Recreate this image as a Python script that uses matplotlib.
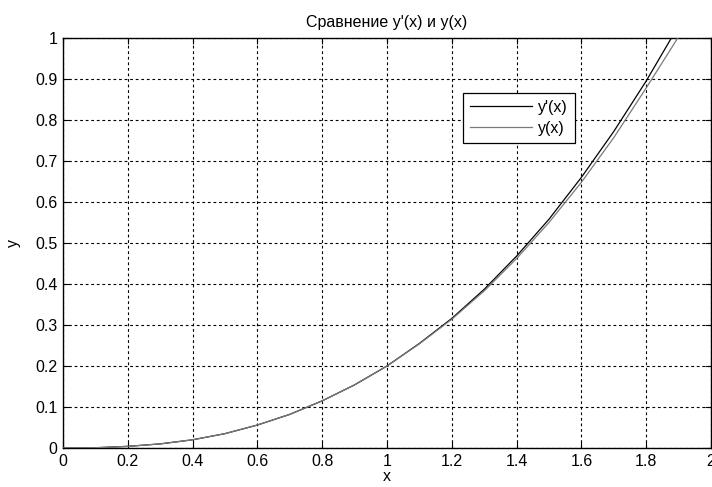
import matplotlib
matplotlib.use("Agg")
import matplotlib.pyplot as plt

x_vals = [0.0, 0.1, 0.2, 0.3, 0.4, 0.5, 0.6, 0.7, 0.8, 0.9, 1.0,
          1.1, 1.2, 1.3, 1.4, 1.5, 1.6, 1.7, 1.8, 1.9, 2.0]
y_deriv = [0.0, 0.0006, 0.004, 0.01, 0.02, 0.035, 0.056, 0.082, 0.115, 0.154, 0.2,
           0.255, 0.316, 0.387, 0.468, 0.558, 0.66, 0.772, 0.895, 1.03, 1.17]
y_exact = [0.0, 0.0006, 0.004, 0.01, 0.02, 0.035, 0.056, 0.082, 0.115, 0.154, 0.2,
           0.254, 0.314, 0.383, 0.462, 0.55, 0.648, 0.757, 0.878, 1.003, 1.14]
xticks = [0, 0.2, 0.4, 0.6, 0.8, 1, 1.2, 1.4, 1.6, 1.8, 2]
xtick_labels = ["0", "0.2", "0.4", "0.6", "0.8", "1", "1.2", "1.4", "1.6", "1.8", "2"]
yticks = [0, 0.1, 0.2, 0.3, 0.4, 0.5, 0.6, 0.7, 0.8, 0.9, 1]
ytick_labels = ["0", "0.1", "0.2", "0.3", "0.4", "0.5", "0.6", "0.7", "0.8", "0.9", "1"]

plt.rcParams['font.family'] = ['Liberation Sans', 'DejaVu Sans']

fig = plt.figure(figsize=(7.12, 4.87), dpi=100)
ax = fig.add_axes([0.0885, 0.0801, 0.9101, 0.842])

ax.plot(x_vals, y_deriv, color='black', lw=0.9, label="y'(x)", zorder=3)
ax.plot(x_vals, y_exact, color='#7a7a7a', lw=0.9, label="y(x)", zorder=3)

ax.set_xlim(0, 2)
ax.set_ylim(0, 1)
ax.set_xticks(xticks)
ax.set_xticklabels(xtick_labels)
ax.set_yticks(yticks)
ax.set_yticklabels(ytick_labels)
ax.tick_params(direction='in', length=4, width=0.8, labelsize=11.5,
               top=True, right=True, colors='black', pad=4)
ax.grid(True, color='black', linestyle=(0, (2.5, 2.5)), linewidth=0.8)
for s in ax.spines.values():
    s.set_linewidth(1.0)
    s.set_color('black')

ax.set_title("Сравнение y'(x) и y(x)", fontsize=11.5, pad=8)
ax.set_xlabel("x", fontsize=11.5, labelpad=0)
ax.set_ylabel("y", fontsize=11.5, labelpad=10)

leg = ax.legend(loc='upper left', bbox_to_anchor=(0.617, 0.866), fancybox=False,
                framealpha=1, edgecolor='black', fontsize=11.5, handlelength=3.9,
                borderpad=0.45, labelspacing=0.35, handletextpad=0.35, borderaxespad=0)
leg.get_frame().set_linewidth(0.9)

fig.savefig("out.png", dpi=100)
